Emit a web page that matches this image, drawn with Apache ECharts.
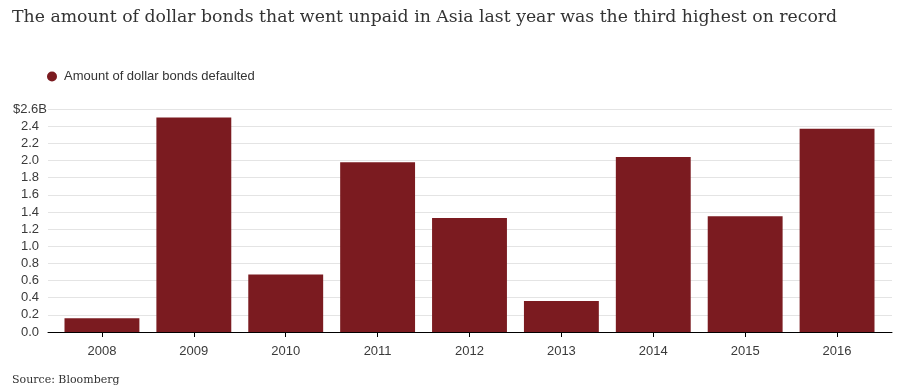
<!DOCTYPE html>
<html>
<head>
<meta charset="utf-8">
<script src="https://cdn.jsdelivr.net/npm/echarts@6/dist/echarts.min.js"></script>
<style>
html,body{margin:0;padding:0;background:#fff;}
#chart{width:915px;height:392px;}
</style>
</head>
<body>
<div id="chart"></div>
<script>
const titleText = 'The amount of dollar bonds that went unpaid in Asia last year was the third highest on record';
const sourceText = 'Source: Bloomberg';
const seriesName = 'Amount of dollar bonds defaulted';
const years = ['2008','2009','2010','2011','2012','2013','2014','2015','2016'];
const defaulted = [0.16, 2.5, 0.67, 1.98, 1.33, 0.36, 2.04, 1.35, 2.37];
const yMin = 0, yMax = 2.6, yStep = 0.2;

const chart = echarts.init(document.getElementById('chart'), null, {renderer:'canvas'});
const sans = 'Liberation Sans, Arial, sans-serif';
const serif = 'DejaVu Serif, Georgia, serif';
const isTop = v => Math.abs(v - yMax) < 1e-9;
chart.setOption({
  animation:false,
  backgroundColor:'#fff',
  title:[
    {text:titleText, left:7, top:4, textStyle:{fontFamily:serif, fontSize:17.3, fontWeight:'normal', color:'#333'}},
    {text:sourceText, left:7, top:370, textStyle:{fontFamily:serif, fontSize:11, fontWeight:'normal', color:'#333'}}
  ],
  legend:{
    left:42, top:65, icon:'circle', itemWidth:14, itemHeight:10, itemGap:5,
    textStyle:{fontFamily:sans, fontSize:13, color:'#333'},
    data:[seriesName]
  },
  grid:[
    {left:48, right:23, top:109, bottom:60, containLabel:false},
    {left:56, right:32, top:109, bottom:60, containLabel:false}
  ],
  xAxis:[
    {gridIndex:0, type:'category', data:[''], axisLine:{show:true, onZero:false, lineStyle:{color:'#000', width:1}}, axisTick:{show:false}, axisLabel:{show:false}, splitLine:{show:false}},
    {gridIndex:1, type:'category', data:years, axisLine:{show:false}, axisTick:{show:true, alignWithLabel:true, length:5, lineStyle:{color:'#000'}},
     axisLabel:{fontFamily:sans, fontSize:13, color:'#3a3a3a', margin:13}}
  ],
  yAxis:[
    {gridIndex:0, type:'value', position:'left', min:yMin, max:yMax, interval:yStep,
     axisLine:{show:false}, axisTick:{show:false},
     splitLine:{show:true, lineStyle:{color:'#e4e4e4', width:1}},
     axisLabel:{fontFamily:sans, fontSize:13, color:'#3a3a3a', margin:9,
       formatter:function(v){ return isTop(v) ? '' : v.toFixed(1); }}},
    {gridIndex:1, type:'value', min:yMin, max:yMax, interval:yStep, show:false, splitLine:{show:false}},
    {gridIndex:0, type:'value', position:'left', offset:0, min:yMin, max:yMax, interval:yStep,
     axisLine:{show:false}, axisTick:{show:false}, splitLine:{show:false},
     axisLabel:{fontFamily:sans, fontSize:13, color:'#3a3a3a', margin:1,
       formatter:function(v){ return isTop(v) ? '$'+v.toFixed(1)+'B' : ''; }}}
  ],
  series:[
    {name:seriesName, type:'bar', xAxisIndex:1, yAxisIndex:1, data:defaulted, barCategoryGap:'18.5%',
     itemStyle:{color:'#7b1b20'}}
  ]
});
</script>
</body>
</html>
